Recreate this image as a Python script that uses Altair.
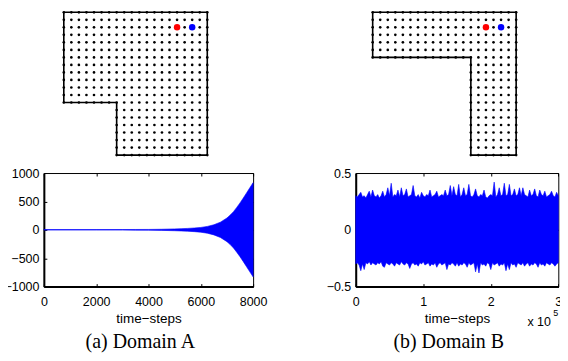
import altair as alt
import pandas as pd

BLUE = "#0000ff"
SANS = "Liberation Sans"
SERIF = "Liberation Serif"

# ---------------- domain grids ----------------
N_COLS = 20
N_ROWS = 20
# removed block: col < notch_col and row > notch_row
notchA = (7, 12)
notchB = (13, 6)
borderA_col = [0, 19, 19, 7, 7, 0, 0]
borderA_row = [0, 0, 19, 19, 12, 12, 0]
borderB_col = [0, 19, 19, 13, 13, 0, 0]
borderB_row = [0, 0, 19, 19, 6, 6, 0]
special_col = [15, 17]
special_row = [2, 2]
special_color = ["#ff0000", "#0000ff"]

# ---------------- time series A (envelope of oscillation) ----------------
tA = [0, 1000, 2000, 3000, 3500, 4000, 4500, 5000, 5250, 5500, 5750, 6000,
      6250, 6500, 6750, 7000, 7125, 7250, 7375, 7500, 7625, 7750, 7875, 8000]
hiA = [4, 4, 4, 5, 6, 7, 10, 16, 20, 25, 32, 42,
       60, 89, 135, 208, 260, 320, 395, 474, 560, 650, 740, 830]
loA = [-4, -4, -4, -5, -6, -7, -10, -16, -20, -25, -32, -42,
       -60, -89, -135, -208, -260, -320, -395, -474, -560, -650, -740, -828]

# ---------------- time series B (x in units of 1e5 steps) ----------------
hiB = [0.30, 0.29, 0.31, 0.33, 0.29, 0.30, 0.28, 0.31, 0.34, 0.29,
       0.35, 0.30, 0.29, 0.31, 0.28, 0.30, 0.34, 0.29, 0.31, 0.37,
       0.30, 0.41, 0.29, 0.31, 0.30, 0.35, 0.29, 0.37, 0.30, 0.31,
       0.36, 0.29, 0.30, 0.31, 0.39, 0.30, 0.29, 0.31, 0.28, 0.33,
       0.30, 0.29, 0.31, 0.30, 0.35, 0.29, 0.30, 0.31, 0.34, 0.29,
       0.30, 0.31, 0.30, 0.35, 0.30, 0.31, 0.39, 0.30, 0.38, 0.31,
       0.30, 0.40, 0.29, 0.31, 0.37, 0.30, 0.31, 0.40, 0.30, 0.29,
       0.31, 0.36, 0.30, 0.29, 0.31, 0.30, 0.35, 0.29, 0.28, 0.30,
       0.31, 0.30, 0.42, 0.29, 0.31, 0.37, 0.30, 0.31, 0.41, 0.30,
       0.31, 0.40, 0.30, 0.31, 0.36, 0.30, 0.31, 0.37, 0.30, 0.37,
       0.31, 0.30, 0.29, 0.35, 0.30, 0.31, 0.36, 0.30, 0.29, 0.35,
       0.31, 0.30, 0.34, 0.29, 0.30, 0.31, 0.34, 0.30, 0.29, 0.33,
       0.30]
loB = [-0.30, -0.29, -0.31, -0.36, -0.30, -0.35, -0.29, -0.30, -0.28, -0.31,
       -0.29, -0.30, -0.31, -0.29, -0.30, -0.28, -0.32, -0.33, -0.29, -0.30,
       -0.31, -0.29, -0.30, -0.32, -0.29, -0.30, -0.31, -0.28, -0.30, -0.31,
       -0.29, -0.30, -0.34, -0.30, -0.29, -0.31, -0.30, -0.32, -0.29, -0.30,
       -0.28, -0.31, -0.30, -0.29, -0.32, -0.30, -0.31, -0.29, -0.33, -0.30,
       -0.29, -0.31, -0.30, -0.29, -0.35, -0.30, -0.31, -0.29, -0.30, -0.32,
       -0.29, -0.32, -0.30, -0.31, -0.29, -0.30, -0.33, -0.29, -0.31, -0.30,
       -0.29, -0.37, -0.30, -0.38, -0.29, -0.31, -0.30, -0.32, -0.29, -0.30,
       -0.35, -0.29, -0.31, -0.30, -0.29, -0.32, -0.30, -0.31, -0.29, -0.36,
       -0.30, -0.35, -0.29, -0.31, -0.30, -0.33, -0.29, -0.30, -0.31, -0.29,
       -0.32, -0.30, -0.29, -0.32, -0.30, -0.31, -0.29, -0.30, -0.33, -0.29,
       -0.31, -0.30, -0.32, -0.29, -0.30, -0.31, -0.29, -0.30, -0.32, -0.30,
       -0.29]
B_STEP = 0.025
tB = [i * B_STEP for i in range(len(hiB))]

xticksA = [0, 2000, 4000, 6000, 8000]
yticksA = [-1000, -500, 0, 500, 1000]
xticksB = [0, 1, 2, 3]
yticksB = [-0.5, 0, 0.5]

GRID_H = 149
PLOT_H = 114
WA = 210
WB = 203.3
TICK = 3
CAP_Y = 176
PX_PER_COL = 144 / 19


def grid_chart(notch, bcol, brow, width, offset):
    pts = pd.DataFrame(
        [(c, r) for r in range(N_ROWS) for c in range(N_COLS)
         if not (c < notch[0] and r > notch[1])],
        columns=["c", "r"])
    xdom = [-offset / PX_PER_COL, (width - offset) / PX_PER_COL]
    xs = alt.Scale(domain=xdom, nice=False, zero=False)
    ys = alt.Scale(domain=[-0.358, 19.398], reverse=True, nice=False, zero=False)
    border = alt.Chart(pd.DataFrame({"c": bcol, "r": brow, "k": list(range(len(bcol)))})).mark_line(
        color="black", strokeWidth=1.6).encode(
        x=alt.X("c:Q", scale=xs, axis=None),
        y=alt.Y("r:Q", scale=ys, axis=None),
        order="k:Q")
    dots = alt.Chart(pts).mark_circle(color="black", size=7, opacity=1).encode(
        x=alt.X("c:Q", scale=xs, axis=None),
        y=alt.Y("r:Q", scale=ys, axis=None))
    special = alt.Chart(pd.DataFrame({"c": special_col, "r": special_row, "col": special_color})).mark_circle(
        size=42, opacity=1).encode(
        x=alt.X("c:Q", scale=xs, axis=None),
        y=alt.Y("r:Q", scale=ys, axis=None),
        color=alt.Color("col:N", scale=None))
    return alt.layer(border, dots, special).properties(
        width=width, height=GRID_H, view=alt.ViewBackground(strokeWidth=0))


def ts_chart(df, width, xdom, xvals, xfmt, ydom, yvals, yfmt, caption, cap_x, extra=None):
    xs = alt.Scale(domain=xdom, nice=False, zero=False)
    ys = alt.Scale(domain=ydom, nice=False, zero=False)
    area = alt.Chart(df).mark_area(color=BLUE, opacity=1, stroke=BLUE, strokeWidth=0.6).encode(
        x=alt.X("t:Q", scale=xs, axis=alt.Axis(
            values=xvals, format=xfmt, title="time\u2212steps", ticks=False,
            grid=True, gridColor="black", gridOpacity=1, gridWidth=1,
            gridDash=[TICK, PLOT_H - 2 * TICK, TICK],
            domainColor="black", domainWidth=2, labelPadding=9, titlePadding=4,
            labelFlush=False, labelOverlap=False)),
        y=alt.Y("lo:Q", scale=ys, axis=alt.Axis(
            values=yvals, format=yfmt, title=None, ticks=False,
            grid=True, gridColor="black", gridOpacity=1, gridWidth=1,
            gridDash=[TICK, width - 2 * TICK, TICK],
            domainColor="black", domainWidth=2, labelPadding=5,
            labelFlush=False, labelOverlap=False)),
        y2="hi:Q")
    cap = alt.Chart(pd.DataFrame({"s": [caption]})).mark_text(
        font=SERIF, fontSize=20, align="center", baseline="alphabetic", color="black").encode(
        x=alt.value(cap_x), y=alt.value(CAP_Y), text="s:N")
    layers = [area, cap]
    if extra is not None:
        layers += extra
    return alt.layer(*layers).properties(
        width=width, height=PLOT_H,
        view=alt.ViewBackground(stroke="black", strokeWidth=1))


dfA = pd.DataFrame({"t": tA, "lo": loA, "hi": hiA})
dfB = pd.DataFrame({"t": tB, "lo": loB, "hi": hiB})

exp_base = alt.Chart(pd.DataFrame({"s": ["x 10"]})).mark_text(
    font=SANS, fontSize=12.5, align="left", baseline="alphabetic", color="black").encode(
    x=alt.value(WB - 31), y=alt.value(PLOT_H + 39.7), text="s:N")
exp_sup = alt.Chart(pd.DataFrame({"s": ["5"]})).mark_text(
    font=SANS, fontSize=9, align="left", baseline="alphabetic", color="black").encode(
    x=alt.value(WB - 5), y=alt.value(PLOT_H + 29.5), text="s:N")

gridA = grid_chart(notchA, borderA_col, borderA_row, WA, 20.0)
gridB = grid_chart(notchB, borderB_col, borderB_row, WB, 17.0)

tsA = ts_chart(dfA, WA, [0, 8000], xticksA, "d", [-1000, 1000], yticksA, "d",
               "(a) Domain A", 96.8)
tsB = ts_chart(dfB, WB, [0, 3], xticksB, "d", [-0.5, 0.5], yticksB, ".1~f",
               "(b) Domain B", 93.3, extra=[exp_base, exp_sup])

chart = alt.concat(
    gridA, gridB, tsA, tsB, columns=2,
    spacing=alt.RowColnumber(row=15, column=103), bounds="flush",
).properties(
    padding={"left": -5, "top": 0, "right": -3, "bottom": -1},
    background="white",
).configure_view(
    stroke="transparent"
).configure_axis(
    labelFont=SANS, labelFontSize=12.5, labelColor="black",
    titleFont=SANS, titleFontSize=13.5, titleColor="black", titleFontWeight="normal",
)

chart.save("out.html", embed_options={"renderer": "svg", "actions": False})
